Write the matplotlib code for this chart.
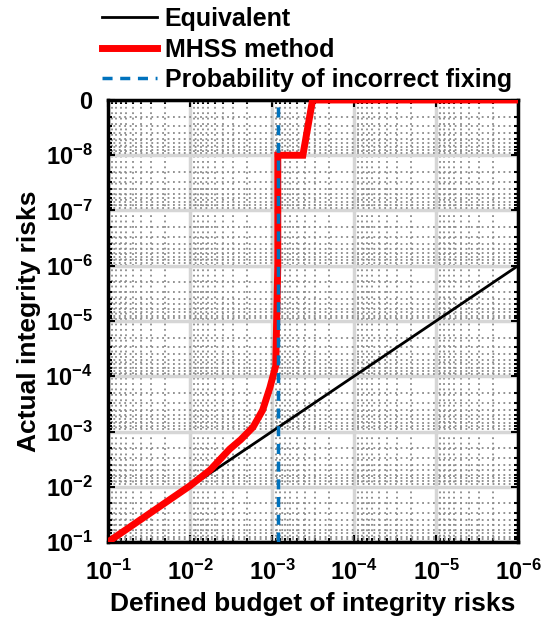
import numpy as np
import matplotlib
matplotlib.use("Agg")
from matplotlib import pyplot as plt
from matplotlib import ticker

plt.rcParams['font.family'] = ['Liberation Sans', 'DejaVu Sans']
plt.rcParams['font.weight'] = 'bold'
plt.rcParams['mathtext.fontset'] = 'custom'
plt.rcParams['mathtext.rm'] = 'Liberation Sans:bold'
plt.rcParams['mathtext.bf'] = 'Liberation Sans:bold'

# equivalent line: actual risk == budget
equiv_x = [1e-1, 1e-6]
equiv_y = [1e-1, 1e-6]

# MHSS method curve (budget -> actual risk), 1e-9 stands for "0"
mhss_x = [1e-1, 1e-2, 5.7e-3, 3.3e-3, 2.4e-3, 1.7e-3, 1.3e-3, 1.06e-3, 9.0e-4,
          8.5e-4, 8.5e-4, 4.2e-4, 3.2e-4, 1e-6]
mhss_y = [1e-1, 9.6e-3, 5.0e-3, 2.1e-3, 1.4e-3, 8.3e-4, 4.1e-4, 1.6e-4, 6.5e-5,
          1e-6, 1e-8, 1e-8, 1e-9, 1e-9]

p_incorrect_fix = 8.5e-4

x_ticks = [1e-1, 1e-2, 1e-3, 1e-4, 1e-5, 1e-6]
x_labels = [r'$\mathbf{10^{-%d}}$' % k for k in range(1, 7)]
y_ticks = [1e-1, 1e-2, 1e-3, 1e-4, 1e-5, 1e-6, 1e-7, 1e-8, 1e-9]
y_labels = [r'$\mathbf{10^{-%d}}$' % k for k in range(1, 9)] + ['0']

fig = plt.figure(figsize=(5.47, 6.23), dpi=100)
ax = fig.add_axes([0.1974, 0.13, 0.7496, 0.7095])

ax.plot(equiv_x, equiv_y, '-', color='black', lw=2, label='Equivalent', zorder=3)
ax.plot(mhss_x, mhss_y, '-', color='#ff0000', lw=5, label='MHSS method', zorder=4,
        solid_joinstyle='miter')
ax.plot([p_incorrect_fix, p_incorrect_fix], [1e-1, 1e-9], '--', color='#0072BD', lw=2.5,
        dashes=(2.9, 2.2), label='Probability of incorrect fixing', zorder=5)

ax.set_xscale('log')
ax.set_yscale('log')
ax.set_xlim(1e-1, 1e-6)
ax.set_ylim(1e-1, 1e-9)

ax.xaxis.set_major_locator(ticker.FixedLocator(x_ticks))
ax.xaxis.set_major_formatter(ticker.FixedFormatter(x_labels))
ax.yaxis.set_major_locator(ticker.FixedLocator(y_ticks))
ax.yaxis.set_major_formatter(ticker.FixedFormatter(y_labels))
for axis in (ax.xaxis, ax.yaxis):
    axis.set_minor_locator(ticker.LogLocator(base=10, subs=np.arange(2, 10), numticks=100))
    axis.set_minor_formatter(ticker.NullFormatter())

ax.tick_params(which='both', direction='in', top=True, right=True, labelsize=17, width=1.5)
ax.tick_params(which='major', length=5)
ax.tick_params(which='minor', length=3)
ax.tick_params(axis='x', which='major', pad=13)
ax.tick_params(axis='y', which='major', pad=11)

ax.grid(True, which='major', color='#d6d6d6', lw=2.5, ls='-', zorder=0)
ax.grid(True, which='minor', color='#8a8a8a', lw=1.3, ls=(0, (1, 2)), zorder=0)

for sp in ax.spines.values():
    sp.set_linewidth(2.5)

ax.set_xlabel('Defined budget of integrity risks', fontsize=19, fontweight='bold', labelpad=5)
ax.set_ylabel('Actual integrity risks', fontsize=19, fontweight='bold', labelpad=3)

ax.legend(loc='lower left', bbox_to_anchor=(-0.02, 1.012), frameon=False, fontsize=18,
          handlelength=2.2, handletextpad=0.3, labelspacing=0.26, borderaxespad=0,
          borderpad=0.1)

fig.savefig('out.png', dpi=100)
